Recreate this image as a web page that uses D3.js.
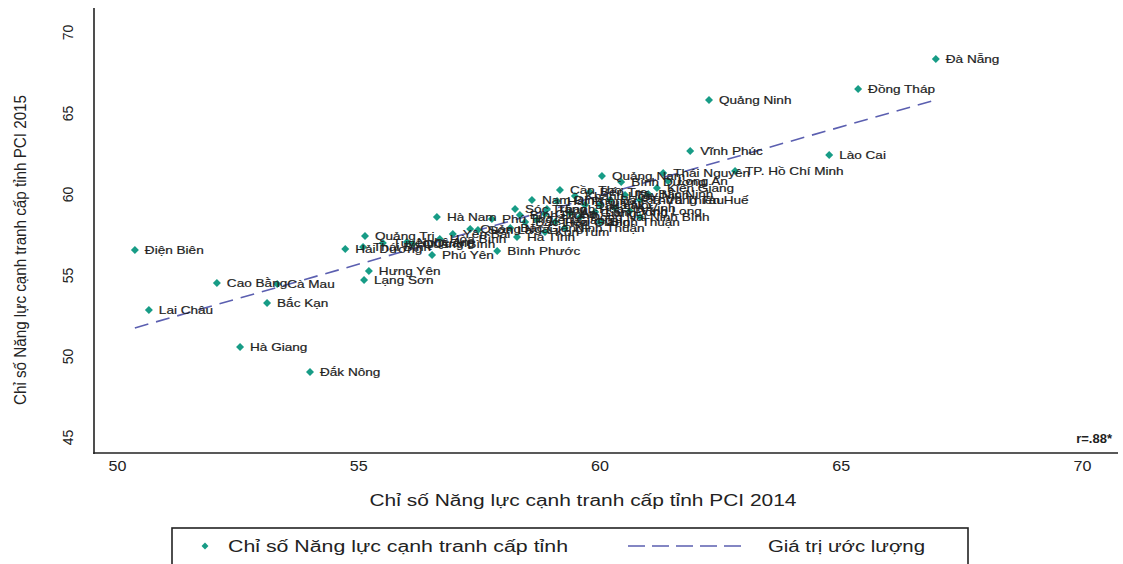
<!DOCTYPE html>
<html>
<head>
<meta charset="utf-8">
<script src="https://cdn.jsdelivr.net/npm/d3@7"></script>
<style>
  html, body { margin: 0; padding: 0; background: #fff; }
  svg { display: block; font-family: "Liberation Sans", Arial, sans-serif; }
</style>
</head>
<body>
<svg id="chart" width="1123" height="564"></svg>
<script>
// ---- data ----
const provinces = [
  "Đà Nẵng","Đồng Tháp","Quảng Ninh","Vĩnh Phúc","Lào Cai","TP. Hồ Chí Minh","Thái Nguyên","Quảng Nam",
  "Long An","Bình Dương","Bến Tre","Kiên Giang","Bắc Ninh","Nam Định","Hải Phòng","Sóc Trăng",
  "Thanh Hóa","Phú Thọ","Tiền Giang","Đồng Nai","Ninh Bình","Hà Nội","Bắc Giang","Hà Tĩnh",
  "Bình Phước","Phú Yên","Quảng Bình","Hòa Bình","Hà Nam","Quảng Trị","Hải Dương","Thái Bình",
  "Tuyên Quang","Nghệ An","Hưng Yên","Lạng Sơn","Điện Biên","Cao Bằng","Cà Mau","Lai Châu",
  "Bắc Kạn","Hà Giang","Đắk Nông","Yên Bái","Quảng Ngãi","Sơn La","Bình Định","Cần Thơ",
  "Khánh Hòa","Đắk Lắk","Lâm Đồng","Bà Rịa-Vũng Tàu","Trà Vinh","Tây Ninh","Vĩnh Long","An Giang",
  "Hậu Giang","Bạc Liêu","Gia Lai","Bình Thuận","Ninh Thuận","Kon Tum","Thừa Thiên Huế"
];
const pci2014 = [
  66.97,65.36,62.27,61.88,64.76,62.81,61.32,60.05,
  61.42,60.45,59.80,61.19,61.01,58.60,59.12,58.25,
  58.91,57.77,58.70,59.60,60.84,60.01,58.15,58.29,
  57.88,56.53,56.13,56.69,56.63,55.14,54.73,55.10,
  55.51,56.01,55.22,55.12,50.37,52.07,53.32,50.66,
  53.11,52.55,54.00,56.96,57.32,57.48,58.35,59.18,
  59.49,59.70,59.91,60.22,60.32,60.53,60.63,59.39,
  59.08,58.46,58.87,60.01,59.28,58.87,60.84
];
const pci2015 = [
  68.33,66.48,65.80,62.65,62.41,61.42,61.30,61.11,
  60.80,60.74,60.12,60.37,60.00,59.63,59.57,59.07,
  59.07,58.46,58.40,58.58,58.58,59.32,57.90,57.35,
  56.48,56.23,56.91,57.22,58.58,57.41,56.60,56.73,
  56.98,57.04,55.25,54.69,56.54,54.51,54.44,52.84,
  53.27,50.56,49.01,57.53,57.84,57.78,58.70,60.25,
  59.88,59.32,58.89,59.63,59.14,59.94,58.95,58.83,
  58.27,58.27,58.77,58.27,57.90,57.65,59.63
];
const xTicks = [50, 55, 60, 65, 70];
const yTicks = [45, 50, 55, 60, 65, 70];
const fitIntercept = 9.02;
const fitSlope = 0.848;
const xTitle = "Chỉ số Năng lực cạnh tranh cấp tỉnh PCI 2014";
const yTitle = "Chỉ số Năng lực cạnh tranh cấp tỉnh PCI 2015";
const legendLabels = ["Chỉ số Năng lực cạnh tranh cấp tỉnh", "Giá trị ước lượng"];
const corrText = "r=.88*";

// ---- styles ----
const teal = "#179c86";
const fitColor = "#5b5fb0";
const ink = "#222";

const svg = d3.select("#chart");
const x = d3.scaleLinear().domain([50, 70]).range([117, 1082]);
const y = d3.scaleLinear().domain([45, 70]).range([437, 32]);

function stretch(sel, f) {
  sel.each(function () {
    const w = this.getComputedTextLength();
    d3.select(this).attr("textLength", w * f).attr("lengthAdjust", "spacingAndGlyphs");
  });
}

// axis frame lines
svg.append("line").attr("x1", 94).attr("x2", 94).attr("y1", 8).attr("y2", 454)
  .attr("stroke", "#222").attr("stroke-width", 1.6);
svg.append("line").attr("x1", 93.2).attr("x2", 1118).attr("y1", 453).attr("y2", 453)
  .attr("stroke", "#222").attr("stroke-width", 1.6);

// x axis
const gx = svg.append("g").attr("transform", "translate(0,453)")
  .call(d3.axisBottom(x).tickValues(xTicks).tickSize(0).tickPadding(8).tickFormat(d3.format("d")));
gx.select(".domain").remove();
gx.selectAll("text").attr("font-size", 14).attr("fill", ink)
  .attr("font-family", "'Liberation Sans', Arial, sans-serif");
stretch(gx.selectAll("text"), 1.15);

// y axis
const gy = svg.append("g").attr("transform", "translate(94,0)")
  .call(d3.axisLeft(y).tickValues(yTicks).tickSize(0).tickFormat(d3.format("d")));
gy.select(".domain").remove();
gy.selectAll("text").attr("font-size", 14).attr("fill", ink)
  .attr("font-family", "'Liberation Sans', Arial, sans-serif")
  .attr("text-anchor", "middle").attr("x", 0).attr("y", 0).attr("dy", "0.35em")
  .attr("transform", "translate(-26,0) rotate(-90)");

// axis titles
const xt = svg.append("text").attr("x", 583).attr("y", 506).attr("text-anchor", "middle")
  .attr("font-size", 16).attr("fill", ink).text(xTitle);
xt.attr("textLength", 427).attr("lengthAdjust", "spacingAndGlyphs");
const yt = svg.append("text").attr("transform", "translate(26,250) rotate(-90)")
  .attr("text-anchor", "middle").attr("font-size", 16).attr("fill", ink).text(yTitle);
yt.attr("textLength", 310).attr("lengthAdjust", "spacingAndGlyphs");

// fit line
const xExt = d3.extent(pci2014);
const fitLine = d3.line().x(d => x(d)).y(d => y(fitIntercept + fitSlope * d));
svg.append("path").attr("d", fitLine(xExt)).attr("fill", "none")
  .attr("stroke", fitColor).attr("stroke-width", 1.6).attr("stroke-dasharray", "14,8");

// points
const pts = provinces.map((p, i) => ({ name: p, a: pci2014[i], b: pci2015[i] }));
const sq = d3.symbol(d3.symbolSquare, 32);
svg.append("g").selectAll("path").data(pts).join("path")
  .attr("d", sq)
  .attr("transform", d => `translate(${x(d.a)},${y(d.b)}) rotate(45)`)
  .attr("fill", teal);

// labels
const lab = svg.append("g").selectAll("text").data(pts).join("text")
  .attr("x", d => x(d.a) + 10).attr("y", d => y(d.b) + 4)
  .attr("font-size", 11.5).attr("fill", ink).attr("stroke", ink).attr("stroke-width", 0.2)
  .text(d => d.name);
stretch(lab, 1.18);

// correlation
svg.append("text").attr("x", 1112).attr("y", 443).attr("text-anchor", "end")
  .attr("font-size", 13).attr("font-weight", "bold").attr("fill", ink).text(corrText);

// legend
svg.append("rect").attr("x", 172).attr("y", 528).attr("width", 796).attr("height", 60)
  .attr("fill", "none").attr("stroke", "#222").attr("stroke-width", 1.6);
svg.append("path").attr("d", d3.symbol(d3.symbolSquare, 24))
  .attr("transform", "translate(205,546) rotate(45)").attr("fill", teal);
const l1 = svg.append("text").attr("x", 228).attr("y", 552).attr("font-size", 16)
  .attr("fill", ink).text(legendLabels[0]);
l1.attr("textLength", 340).attr("lengthAdjust", "spacingAndGlyphs");
svg.append("line").attr("x1", 628).attr("x2", 742).attr("y1", 546).attr("y2", 546)
  .attr("stroke", fitColor).attr("stroke-width", 1.6).attr("stroke-dasharray", "17,7");
const l2 = svg.append("text").attr("x", 768).attr("y", 552).attr("font-size", 16)
  .attr("fill", ink).text(legendLabels[1]);
l2.attr("textLength", 157).attr("lengthAdjust", "spacingAndGlyphs");
</script>
</body>
</html>
